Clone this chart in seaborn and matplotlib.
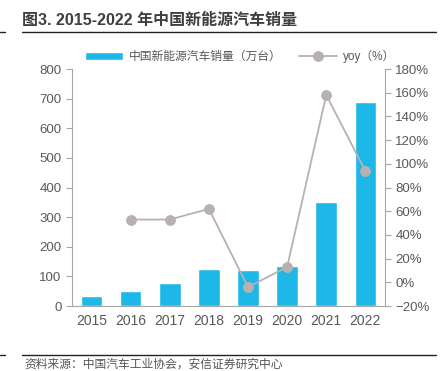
import matplotlib
matplotlib.use("Agg")
import matplotlib.pyplot as plt
import matplotlib.ticker as mticker
import numpy as np
import pandas as pd
import seaborn as sns

# ---------------------------------------------------
# Data
# ---------------------------------------------------

years = ["2015", "2016", "2017", "2018", "2019", "2020", "2021", "2022"]
sales = [33.1, 50.7, 77.7, 125.6, 120.6, 136.7, 352.1, 688.7]
yoy_years = ["2016", "2017", "2018", "2019", "2020", "2021", "2022"]
yoy = [53, 53, 62, -4, 13, 158, 94]

sales_label = "中国新能源汽车销量（万台）"
yoy_label = "yoy（%）"

sns.set_style("white")
plt.rcParams["font.family"] = ["Liberation Sans", "Noto Sans CJK SC", "DejaVu Sans"]

BAR = "#1EB8E8"
LINE = "#B9B1B1"
AXIS = "#A6A6A6"
TXT = "#595959"

fig = plt.figure(figsize=(4.44, 3.71), dpi=100)
ax = fig.add_axes([0.162, 0.175, 0.705, 0.639])

df = pd.DataFrame({"year": years, "sales": sales})
sns.barplot(data=df, x="year", y="sales", color=BAR, width=0.55,
            saturation=1, ax=ax, label=sales_label)

ax2 = ax.twinx()
pos = [years.index(y) for y in yoy_years]
sns.lineplot(x=pos, y=yoy, ax=ax2, color=LINE, marker="o", markersize=7,
             markeredgecolor=LINE, linewidth=1.3, label=yoy_label, legend=False)

ax.set_ylim(0, 800)
ax.set_yticks(range(0, 801, 100))
ax2.set_ylim(-20, 180)
ax2.set_yticks(range(-20, 181, 20))
ax2.yaxis.set_major_formatter(mticker.FuncFormatter(lambda v, p: f"{int(v)}%".replace("-", "\u2212")))
ax.set_xlim(-0.5, len(years) - 0.5)
ax.set_xticks(np.arange(-0.5, len(years), 1), minor=True)
ax.set_xlabel("")
ax.set_ylabel("")
ax2.set_ylabel("")

for a in (ax, ax2):
    a.spines["top"].set_visible(False)
    for s in ("left", "right", "bottom"):
        a.spines[s].set_color(AXIS)
        a.spines[s].set_linewidth(0.8)
    a.tick_params(axis="y", colors=TXT, labelsize=9.5, length=4, color=AXIS, width=0.8)
ax.spines["right"].set_visible(False)
ax2.spines["left"].set_visible(False)
ax2.spines["bottom"].set_visible(False)
ax.tick_params(axis="x", which="major", length=0, colors=TXT, labelsize=10, pad=6)
ax.tick_params(axis="x", which="minor", length=4, color=AXIS, width=0.8)
if ax.get_legend():
    ax.get_legend().remove()

h1, l1 = ax.get_legend_handles_labels()
h2, l2 = ax2.get_legend_handles_labels()
fig.legend(h1 + h2, l1 + l2, loc="center", bbox_to_anchor=(0.54, 0.848), ncol=2,
           frameon=False, fontsize=8.5, handlelength=3.2, columnspacing=1.5,
           labelcolor=TXT, handletextpad=0.5)

# title and frame lines
fig.text(0.05, 0.946, "图3. 2015-2022 年中国新能源汽车销量", fontsize=11.5,
         fontweight="bold", color="#3F3F3F", va="center")
fig.add_artist(plt.Line2D([0.05, 0.982], [0.915, 0.915], color="#222222", lw=1))
fig.add_artist(plt.Line2D([0.0, 0.012], [0.915, 0.915], color="#222222", lw=1))
fig.add_artist(plt.Line2D([0.05, 0.982], [0.043, 0.043], color="#222222", lw=1))
fig.add_artist(plt.Line2D([0.0, 0.012], [0.043, 0.043], color="#222222", lw=1))
fig.text(0.055, 0.018, "资料来源：中国汽车工业协会，安信证券研究中心", fontsize=8.5,
         style="italic", color="#555555", va="center")

fig.savefig("out.png", dpi=100)
plt.close()
